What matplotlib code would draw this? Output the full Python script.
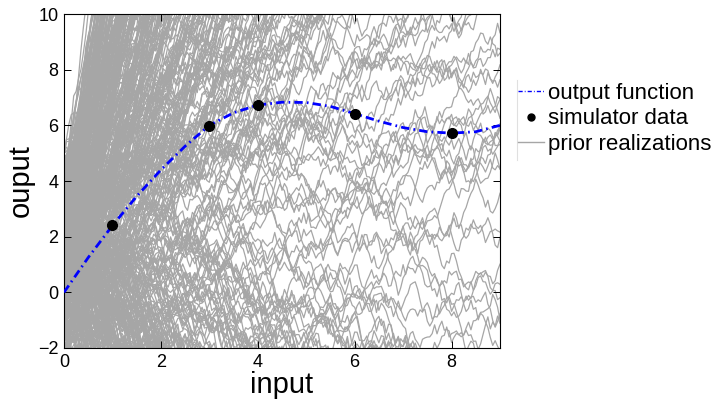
import numpy as np
import matplotlib
matplotlib.use("Agg")
import matplotlib.pyplot as plt
from matplotlib.lines import Line2D

plt.rcParams['font.family'] = ['Liberation Sans', 'DejaVu Sans']

# ---- data ----
fn_x = [0, 0.5, 1, 1.5, 2, 2.5, 3, 3.5, 4, 4.5, 5, 5.5, 6, 6.5, 7, 7.5, 8, 8.5, 9]
fn_y = [0.0, 1.25, 2.4, 3.45, 4.4, 5.25, 6.0, 6.45, 6.73, 6.83, 6.82, 6.68,
        6.42, 6.15, 5.92, 5.77, 5.72, 5.77, 6.0]

data_x = [1, 3, 4, 6, 8]
data_y = [2.42, 5.98, 6.73, 6.41, 5.73]

# prior realizations: estimated intercepts / trends, plus a fixed wiggle table
prior_x = [round(0.05 * k, 2) for k in range(181)]
prior_intercepts = [
    1.2, -0.5, 2.8, 0.3, 3.9, 1.6, -1.4, 0.9, 2.2, 4.6,
    -0.1, 1.8, 0.5, 3.1, -2.0, 1.4, 2.6, 0.0, 4.1, 1.0,
    -0.8, 2.4, 3.5, 0.7, -1.1, 1.9, 5.0, 0.2, 2.0, -0.3,
    3.3, 1.1, -1.7, 2.9, 0.6, 4.4, 1.5, -0.6, 2.3, 0.8,
    3.7, -1.3, 1.3, 2.7, 0.1, -2.3, 1.7, 3.0, 0.4, 2.1,
    -0.9, 4.8, 1.0, 2.5, -0.2, 3.4, 0.9, -1.6, 1.6, 2.9,
    0.3, 3.8, -0.7, 1.2, 2.2, 5.2, -0.4, 1.8, 0.5, 3.2,
    -1.9, 2.6, 1.4, 0.0, 4.0, -1.0, 2.0, 0.7, 3.6, 1.1,
    -0.1, 2.4, 4.3, 0.6, -1.5, 1.9, 3.0, 0.2, -2.6, 1.5,
    2.8, 0.9, -0.5, 3.5, 1.3, 4.7, -1.2, 2.3, 0.4, 1.7,
    3.1, -0.8, 2.1, 0.8, -1.8, 3.9, 1.0, 2.6, -0.3, 4.5,
    0.1, 1.6, 2.9, -1.4, 0.6, 3.3, 1.2, -0.6, 2.5, 0.3,
    4.2, -2.1, 1.4, 2.7, 0.0, 3.7, -0.9, 1.8, 2.2, 0.5,
    -1.2, 3.4, 1.1, 4.9, -0.2, 2.0, 0.7, -1.7, 2.8, 1.5,
    3.6, -0.4, 0.9, 2.4, -1.0, 1.3, 4.1, 0.2, 3.0, -0.7]
prior_slopes = [
    2.1, -0.4, 5.3, 0.8, 3.6, -1.7, 7.2, 1.2, 0.3, 4.4,
    -2.8, 2.7, 9.1, 0.6, -0.9, 3.1, 1.8, 6.4, -3.9, 0.1,
    2.4, 4.9, -1.2, 1.5, 8.3, 0.9, -0.2, 3.3, 5.8, -2.1,
    1.1, 2.9, 11.2, 0.4, -4.6, 3.8, 1.7, 6.9, -0.6, 2.2,
    0.7, 4.1, -1.5, 10.4, 1.3, 2.6, -3.2, 5.1, 0.2, 3.5,
    7.7, -0.8, 1.9, 4.6, -2.4, 0.5, 2.8, 6.1, 1.0, -1.1,
    3.0, 8.8, -0.3, 1.4, 5.5, -5.2, 2.3, 0.0, 4.3, 1.6,
    -1.9, 7.0, 2.5, 0.6, 3.9, -0.5, 12.0, 1.2, 4.8, -2.6,
    2.0, 0.8, 6.6, -1.4, 3.2, 1.5, 9.6, -0.1, 2.7, 5.0,
    -3.5, 1.1, 4.0, 0.3, 7.5, -0.7, 2.1, 3.4, -2.0, 5.7,
    1.8, 0.9, 8.0, -1.0, 2.6, 4.5, -4.1, 1.3, 6.3, 0.4,
    3.7, -0.4, 10.8, 2.2, -1.6, 5.2, 0.7, 3.0, -2.9, 1.6,
    7.9, 2.4, -0.2, 4.2, 1.0, 6.0, -1.3, 3.6, 0.1, 9.4,
    2.9, -3.0, 1.7, 5.4, 0.5, -0.9, 4.7, 2.0, 8.5, -1.8,
    3.3, 0.2, 6.8, 1.4, -2.3, 2.8, 11.6, 0.6, 4.0, -0.6]
# extra steep realizations that fill the dense fan near the origin
steep_slopes = [
    3.2, 6.5, -2.2, 9.8, 4.1, 2.6, -3.8, 7.4, 5.0, 12.5,
    -1.8, 3.7, 8.1, 2.9, -4.9, 6.0, 4.6, 10.9, -2.7, 3.4,
    5.6, 7.9, -1.6, 2.8, 11.8, 4.3, -3.3, 6.8, 3.0, 9.0,
    -5.6, 5.3, 2.5, 8.6, -2.0, 4.0, 7.1, 3.5, -4.3, 6.3,
    13.0, 2.7, -2.5, 5.9, 4.8, 8.4, -3.6, 3.9, 10.2, 6.7,
    -1.9, 2.4, 5.1, 7.6, -6.0, 4.5, 3.1, 9.3, -2.9, 5.7]
# extra falling realizations for the lower-left region
mid_slopes = [
    -1.8, -1.1, -2.6, -0.9, -3.3, -1.4, -2.0, -1.0, -2.9, -1.6,
    -0.8, -2.3, -1.2, -3.6, -1.5, -2.1, -0.9, -2.7, -1.3, -1.9,
    -3.0, -1.1, -2.4, -0.8, -1.7, -2.2, -1.0, -3.8, -1.4, -2.5,
    -1.2, -2.8, -0.9, -1.6, -3.1, -2.0, -1.3, -2.6, -1.0, -1.8,
    -3.4, -1.5, -2.2, -0.8, -2.9, -1.1, -1.9, -2.4, -1.2, -4.0]
wiggle = [
    0.8, -1.2, 0.3, 1.5, -0.6, -0.9, 1.1, 0.2, -1.7, 0.5,
    1.3, -0.4, -1.1, 0.9, 0.1, -0.3, 1.8, -1.4, 0.6, -0.8,
    0.4, 1.0, -1.6, 0.7, -0.2, 1.2, -1.0, -0.5, 1.6, 0.0,
    -1.3, 0.9, 0.3, -0.7, 1.4, -1.9, 0.5, 1.1, -0.1, -1.2,
    0.8, 0.2, -0.6, 1.7, -1.5, 0.4, -0.9, 1.0, 0.6, -1.1,
    1.3, -0.3, -0.8, 0.7, 2.0, -1.4, 0.1, -0.5, 1.2, -1.0,
    0.5, -1.7, 0.9, 0.3, -0.2, 1.5, -1.3, 0.8, -0.6, 0.2,
    1.1, -0.9, -1.2, 1.6, -0.4, 0.6, -1.8, 1.0, 0.4, -0.7,
    1.4, -0.1, -1.5, 0.7, 0.9, -1.1, 0.3, 1.2, -2.0, 0.5,
    -0.3, 1.3, -0.8, 0.1, 1.7, -1.6, 0.4]

# ---- figure ----
fig = plt.figure(figsize=(7.19, 4.03), dpi=100)
ax = fig.add_axes([64 / 719, 1 - 348 / 403, 436 / 719, 334 / 403])

px = np.array(prior_x)
w = np.array(wiggle) - np.mean(wiggle)
nw = len(w)
step_scale = 0.22

pairs = list(zip(prior_intercepts, prior_slopes))
n_int = len(prior_intercepts)
for j in range(4):
    for i, b in enumerate(steep_slopes):
        pairs.append((prior_intercepts[(i * 7 + j * 31) % n_int], b))
for j in range(2):
    for i, b in enumerate(mid_slopes):
        pairs.append((prior_intercepts[(i * 11 + j * 47 + 5) % n_int], b))

for i, (a, b) in enumerate(pairs):
    stride = 1 + (i * 37) % (nw - 1)
    off = (i * 53) % nw
    inc = np.array([w[(off + stride * k + k // nw) % nw] for k in range(len(px) - 1)])
    walk = np.concatenate([[0.0], np.cumsum(inc) * step_scale])
    ax.plot(px, a + b * px + walk, color='#a6a6a6', lw=0.9, zorder=1)

ax.plot(fn_x, fn_y, color='#0000ff', lw=2.0, linestyle=(0, (3, 1.5, 0.6, 1.5)), zorder=3)
ax.plot(data_x, data_y, 'o', color='black', ms=7, zorder=4)

ax.set_xlim(0, 9)
ax.set_ylim(-2, 10)
ax.set_xticks([0, 2, 4, 6, 8])
ax.set_yticks([-2, 0, 2, 4, 6, 8, 10])
ax.tick_params(direction='in', length=5, width=0.7, labelsize=13, top=True, right=True, pad=4)
for s in ax.spines.values():
    s.set_linewidth(0.8)
ax.set_xlabel('input', fontsize=21, labelpad=0)
ax.set_ylabel('ouput', fontsize=21, labelpad=2)

handles = [
    Line2D([], [], color='#0000ff', lw=1.0, linestyle=(0, (3, 1.5, 0.6, 1.5))),
    Line2D([], [], color='black', marker='o', ms=5, linestyle='none'),
    Line2D([], [], color='#a6a6a6', lw=1.0),
]
labels = ['output function', 'simulator data', 'prior realizations']
fig.legend(handles, labels, loc='upper left', bbox_to_anchor=(518 / 719, 1 - 83 / 403),
           frameon=False, fontsize=16, handlelength=1.15, handletextpad=0.22,
           labelspacing=0.2, borderaxespad=0, borderpad=0)
fig.add_artist(Line2D([517 / 719, 517 / 719], [1 - 80 / 403, 1 - 160 / 403],
                      transform=fig.transFigure, color='#e0e0e0', lw=0.8))

fig.savefig('out.png', dpi=100)
